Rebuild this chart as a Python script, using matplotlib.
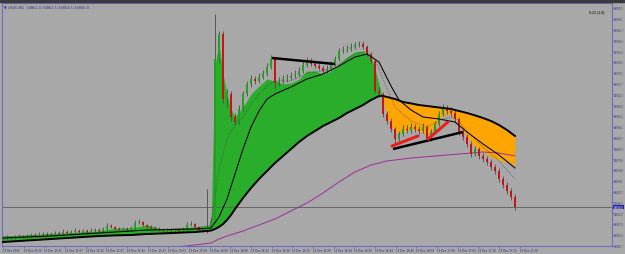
import numpy as np
import matplotlib.pyplot as plt
from matplotlib.transforms import blended_transform_factory

# M1 bars, oldest first
closes = [
    34840.5, 34841.0, 34840.5, 34841.0, 34841.5, 34841.0, 34841.5, 34842.0, 34841.5, 34842.0,
    34842.5, 34842.0, 34842.5, 34843.0, 34842.5, 34843.5, 34843.0, 34843.5, 34844.0, 34843.5,
    34844.0, 34843.5, 34844.0, 34844.5, 34844.0, 34845.0, 34846.5, 34846.0, 34845.0, 34844.5,
    34845.0, 34844.5, 34845.5, 34848.0, 34848.5, 34847.0, 34846.0, 34845.5, 34845.0, 34844.5,
    34844.0, 34844.5, 34844.0, 34844.5, 34844.0, 34845.0, 34847.0, 34847.5, 34846.0, 34844.5,
    34844.0, 34846.0, 34849.0, 34930.0, 34942.5, 34910.0, 34912.5, 34901.0, 34898.5, 34905.0,
    34912.5, 34917.5, 34920.0, 34919.0, 34921.0, 34922.5, 34926.0, 34930.0, 34918.0, 34919.0,
    34920.0, 34920.5, 34921.5, 34922.0, 34924.0, 34927.0, 34929.0, 34927.5, 34926.5, 34925.5,
    34924.0, 34925.0, 34927.5, 34930.0, 34934.0, 34934.5, 34935.0, 34936.0, 34937.0, 34937.5,
    34936.0, 34932.5, 34929.0, 34914.0, 34912.5, 34902.5, 34899.0, 34895.0, 34890.0, 34892.5,
    34895.0, 34894.5, 34896.0, 34895.0, 34894.0, 34896.0, 34890.0, 34893.5, 34897.5, 34902.5,
    34905.0, 34904.0, 34903.0, 34900.0, 34893.5, 34891.0, 34887.5, 34882.5, 34885.0, 34881.5,
    34880.0, 34878.5, 34876.0, 34874.0, 34870.0, 34867.0, 34864.0, 34861.0, 34856.0,
]
highs = [
    34841.5, 34842.0, 34841.5, 34842.0, 34842.5, 34842.0, 34842.5, 34843.0, 34843.0, 34843.5,
    34843.5, 34843.5, 34843.5, 34844.0, 34844.0, 34845.0, 34844.5, 34844.5, 34845.5, 34845.0,
    34845.0, 34845.0, 34845.5, 34845.5, 34845.5, 34846.0, 34848.0, 34847.5, 34846.5, 34846.0,
    34846.0, 34846.0, 34846.5, 34849.5, 34850.0, 34849.0, 34847.5, 34847.0, 34846.5, 34846.0,
    34845.5, 34845.5, 34845.5, 34845.5, 34845.5, 34846.0, 34848.5, 34849.0, 34848.0, 34846.5,
    34845.5, 34865.0, 34851.0, 34952.5, 34944.0, 34944.0, 34915.0, 34914.0, 34903.0, 34907.0,
    34914.0, 34919.0, 34922.0, 34921.5, 34923.0, 34924.5, 34928.0, 34932.0, 34931.0, 34921.0,
    34922.0, 34922.5, 34923.5, 34924.5, 34926.0, 34929.0, 34931.0, 34930.5, 34929.0, 34928.0,
    34926.5, 34927.0, 34929.0, 34931.5, 34935.5, 34936.5, 34937.0, 34938.0, 34938.5, 34939.0,
    34939.0, 34937.0, 34933.5, 34930.0, 34916.0, 34913.5, 34904.0, 34900.5, 34896.0, 34894.0,
    34897.0, 34897.0, 34898.0, 34897.5, 34896.5, 34898.0, 34897.0, 34895.0, 34899.0, 34904.0,
    34907.5, 34907.0, 34906.0, 34904.5, 34901.0, 34895.0, 34892.5, 34889.0, 34886.5, 34886.0,
    34883.0, 34881.5, 34880.0, 34877.5, 34875.5, 34871.5, 34868.5, 34865.5, 34862.5,
]
lows = [
    34839.5, 34840.0, 34840.0, 34840.0, 34840.5, 34840.5, 34840.5, 34841.0, 34841.0, 34841.0,
    34841.5, 34841.5, 34841.5, 34842.0, 34842.0, 34842.0, 34842.5, 34842.5, 34843.0, 34843.0,
    34843.0, 34843.0, 34843.0, 34843.5, 34843.5, 34843.5, 34844.5, 34845.5, 34844.5, 34844.0,
    34844.0, 34844.0, 34844.0, 34845.0, 34847.5, 34846.5, 34845.5, 34845.0, 34844.5, 34844.0,
    34843.5, 34843.5, 34843.5, 34843.5, 34843.5, 34843.5, 34844.5, 34846.5, 34845.5, 34844.0,
    34843.5, 34843.0, 34845.5, 34848.5, 34928.0, 34908.0, 34906.0, 34899.0, 34897.0, 34897.5,
    34904.0, 34911.5, 34916.0, 34917.5, 34918.0, 34920.0, 34921.5, 34925.0, 34915.0, 34916.5,
    34917.5, 34918.5, 34919.5, 34920.5, 34921.0, 34923.0, 34926.0, 34926.5, 34925.5, 34924.5,
    34923.0, 34923.0, 34924.0, 34926.5, 34929.0, 34933.0, 34933.5, 34934.0, 34935.0, 34936.0,
    34935.0, 34931.5, 34928.0, 34913.0, 34911.0, 34901.0, 34897.5, 34893.5, 34887.5, 34889.0,
    34891.5, 34893.0, 34893.0, 34893.5, 34892.5, 34893.0, 34888.5, 34889.0, 34892.5, 34896.5,
    34901.5, 34902.5, 34901.5, 34898.5, 34892.0, 34889.5, 34886.0, 34881.0, 34881.5, 34880.0,
    34878.5, 34877.0, 34874.5, 34872.5, 34868.5, 34865.5, 34862.5, 34859.5, 34854.5,
]
first_open = 34840.0

# cloud: fast and slow averages sampled at these bar indexes
cloud_idx = [0, 12, 24, 28, 32, 36, 40, 48, 52, 53, 54, 55, 56, 57, 58, 60, 62, 64, 66, 68,
             70, 72, 74, 76, 78, 80, 82, 84, 86, 88, 90, 92, 93, 94, 95, 96, 98, 100, 102,
             104, 106, 108, 110, 112, 114, 116, 118, 120, 122, 124, 126, 128]
fast_ma = [34841.5, 34842.5, 34844.0, 34845.5, 34845.5, 34847.0, 34845.0, 34846.0, 34847.0,
           34927.5, 34937.5, 34922.5, 34912.5, 34905.0, 34901.0, 34906.0, 34912.5, 34916.5,
           34920.0, 34919.0, 34917.5, 34918.0, 34920.0, 34924.0, 34924.0, 34922.5, 34924.0,
           34927.5, 34931.0, 34933.5, 34934.0, 34931.0, 34925.0, 34917.5, 34910.0, 34901.0,
           34893.5, 34893.5, 34895.0, 34894.0, 34892.0, 34896.0, 34902.0, 34902.5, 34897.5,
           34891.0, 34886.0, 34883.5, 34881.0, 34879.5, 34878.5, 34877.0]
slow_ma = [34838.5, 34840.0, 34841.5, 34841.8, 34842.0, 34842.5, 34842.8, 34843.5, 34844.2,
           34845.0, 34846.0, 34847.5, 34849.5, 34852.0, 34855.0, 34860.5, 34865.5, 34870.0,
           34874.0, 34878.0, 34881.5, 34885.0, 34888.5, 34891.5, 34894.0, 34896.5, 34898.5,
           34900.5, 34903.0, 34905.0, 34907.0, 34909.5, 34910.5, 34911.5, 34911.5, 34911.0,
           34910.0, 34908.5, 34907.8, 34907.0, 34906.5, 34906.0, 34905.5, 34905.0, 34904.0,
           34903.0, 34901.8, 34900.5, 34899.0, 34897.0, 34894.5, 34891.5]

mid_idx = [0, 12, 24, 36, 48, 52, 54, 56, 58, 60, 62, 64, 66, 68, 72, 76, 80, 84, 88, 91,
           94, 97, 99, 102, 105, 109, 113, 116, 120, 124, 128]
mid_ma = [34840.5, 34841.5, 34843.0, 34844.5, 34845.0, 34845.5, 34851.0, 34860.0, 34872.5,
          34885.0, 34896.0, 34904.0, 34910.0, 34912.5, 34916.0, 34920.0, 34922.5, 34926.5,
          34931.0, 34932.5, 34928.5, 34916.5, 34909.5, 34904.5, 34901.0, 34900.0, 34898.5,
          34893.5, 34887.5, 34882.0, 34875.5]

dot_idx = [0, 24, 48, 52, 54, 56, 58, 60, 62, 64, 66, 68, 72, 76, 80, 84, 88, 91, 93, 95,
           98, 102, 106, 110, 113, 116, 120, 124, 128]
dot_ma = [34841.0, 34843.5, 34845.5, 34847.0, 34875.0, 34890.0, 34897.5, 34901.0, 34907.5,
          34912.5, 34916.5, 34919.0, 34919.0, 34923.0, 34924.0, 34927.5, 34932.5, 34934.0,
          34930.0, 34920.0, 34906.0, 34899.0, 34896.0, 34900.0, 34901.0, 34894.0, 34886.0,
          34879.0, 34870.0]

long_idx = [43.5, 48, 52, 54, 56, 60, 64, 68, 72, 76, 80, 84, 88, 92, 96, 102, 108, 114,
            120, 124, 128]
long_ma = [34836.0, 34837.0, 34838.0, 34840.0, 34841.5, 34844.0, 34847.0, 34850.0, 34854.0,
           34858.0, 34863.0, 34868.5, 34873.5, 34877.0, 34879.0, 34880.5, 34881.5, 34882.5,
           34883.5, 34883.0, 34881.5]

# hand drawn trend lines: ((bar, price), (bar, price))
black_lines = [((67.25, 34930.5), (83.0, 34927.5)), ((97.5, 34885.0), (115.0, 34893.5))]
red_lines = [((97.25, 34886.5), (103.75, 34891.5)), ((106.25, 34890.0), (111.25, 34898.5))]

time_labels = ["13 Dec 2021", "13 Dec 15:16", "13 Dec 15:21", "13 Dec 15:27", "13 Dec 15:32",
               "13 Dec 15:37", "13 Dec 15:42", "13 Dec 15:47", "13 Dec 15:52", "13 Dec 15:58",
               "13 Dec 16:03", "13 Dec 16:08", "13 Dec 16:13", "13 Dec 16:18", "13 Dec 16:23",
               "13 Dec 16:29", "13 Dec 16:34", "13 Dec 16:39", "13 Dec 16:44", "13 Dec 16:49",
               "13 Dec 16:54", "13 Dec 17:00", "13 Dec 17:05", "13 Dec 17:10", "13 Dec 17:15",
               "13 Dec 17:20"]

BG = "#a8a8a8"
FRAME = "#6c6cc4"
TXT = "#33337a"
GREEN = "#2aad2a"
ORANGE = "#ffa500"
NARROW = ["Liberation Sans Narrow", "Liberation Sans", "DejaVu Sans"]

fig = plt.figure(figsize=(6.25, 2.55), dpi=100, facecolor=BG)
fig.patches.append(plt.Rectangle((0, 1 - 3 / 255), 1, 3 / 255, transform=fig.transFigure,
                                 color="#3a3a3a", zorder=0))
ax = fig.add_axes([2 / 625, 8 / 255, 610 / 625, 243 / 255], facecolor=BG)

# cloud between fast and slow average
ci = np.array(cloud_idx, dtype=float)
fm = np.array(fast_ma)
sm = np.array(slow_ma)
ax.fill_between(ci, fm, sm, where=fm >= sm, interpolate=True, color=GREEN, lw=0, zorder=1)
ax.fill_between(ci, fm, sm, where=fm < sm, interpolate=True, color=ORANGE, lw=0, zorder=1)

# candles
c = np.array(closes)
o = np.array([first_open] + closes[:-1])
x = np.arange(len(c))
up = c >= o
body = np.maximum(np.abs(c - o), 0.4)
ax.vlines(x, lows, highs, color="#4a4a4a", lw=0.6, zorder=3)
ax.bar(x[up], body[up], bottom=o[up], width=0.72, color="#23a023", lw=0, zorder=3.1)
ax.bar(x[~up], body[~up], bottom=c[~up], width=0.72, color="#c81414", lw=0, zorder=3.1)

# averages
ax.plot(long_idx, long_ma, color="#a02ca0", lw=0.7, zorder=2)
ax.plot(cloud_idx, slow_ma, color="black", lw=1.4, zorder=4)
ax.plot(mid_idx, mid_ma, color="black", lw=0.75, zorder=4)
ax.plot(dot_idx, dot_ma, color="#404040", lw=0.5, ls=(0, (1, 1.5)), zorder=4)

for (x0, y0), (x1, y1) in black_lines:
    ax.plot([x0, x1], [y0, y1], color="black", lw=1.8, solid_capstyle="butt", zorder=5)
for (x0, y0), (x1, y1) in red_lines:
    ax.plot([x0, x1], [y0, y1], color="#ee1c1c", lw=2.2, solid_capstyle="round", zorder=5)

# bid line and label
ax.axhline(closes[-1], color="#5c5c5c", lw=0.6, zorder=2)
tr = blended_transform_factory(ax.transAxes, ax.transData)
ax.text(1.0025, closes[-1], f"{closes[-1]:.1f}", transform=tr, fontsize=1.9, color="white",
        family=NARROW, va="center", ha="left", clip_on=False,
        bbox=dict(fc="#2424a0", ec="none", boxstyle="square,pad=0.15"))

ax.set_xlim(-0.25, 152.25)
ax.set_ylim(34836.5, 34958.0)

# axis ticks
tick_pos = np.arange(len(time_labels)) * 20.67 / 4
ax.set_xticks(tick_pos)
ax.set_xticklabels(time_labels, ha="left", family=NARROW, fontsize=2.2)
yt = 34955.5 - 5.4 * np.arange(23)
ax.set_yticks(yt)
ax.set_yticklabels([f"{v:.1f}" for v in yt], family=NARROW, fontsize=1.9)
ax.yaxis.tick_right()
ax.tick_params(axis="both", colors=FRAME, labelcolor=TXT, length=1.2,
               width=0.6, pad=0.3, direction="out")
for s in ax.spines.values():
    s.set_color(FRAME)
    s.set_linewidth(0.8)

ax.text(0.003, 0.986, "\u25bc US30,M1  34861.0 34862.5 34854.5 34856.0", transform=ax.transAxes,
        fontsize=2.6, color=TXT, va="center", ha="left")
ax.text(0.988, 0.962, "0:22 (1.9)", transform=ax.transAxes, fontsize=2.6, color="black",
        family=NARROW, va="center", ha="right")

fig.savefig("out.png", dpi=100, facecolor=BG)
